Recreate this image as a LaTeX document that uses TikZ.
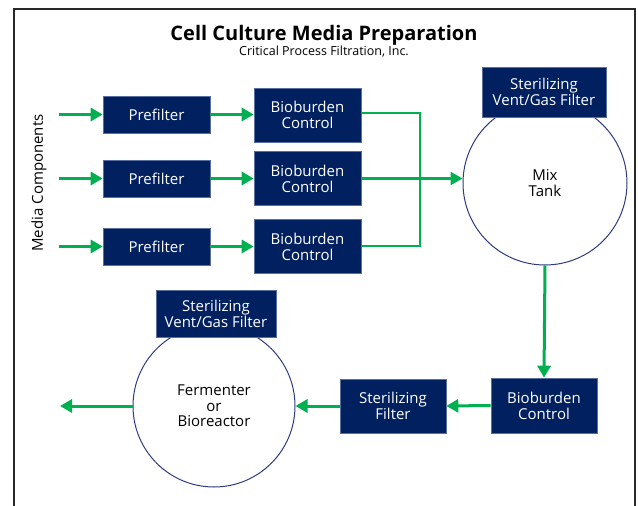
\documentclass[tikz,border=0pt]{standalone}
\usepackage{fontspec}
\setmainfont{Open Sans}
\usetikzlibrary{arrows.meta}
\definecolor{navy}{RGB}{0,32,96}
\definecolor{navyedge}{RGB}{90,110,160}
\definecolor{circedge}{RGB}{47,60,130}
\definecolor{flowgreen}{RGB}{0,176,80}
\definecolor{framegray}{RGB}{40,40,40}
\tikzset{
  procbox/.style={draw=navyedge, line width=0.6pt, fill=navy, text=white, align=center,
    inner sep=0pt, font=\fontsize{15}{16}\selectfont},
  tank/.style={circle, draw=circedge, line width=1pt, fill=white, align=center, inner sep=0pt,
    font=\fontsize{15}{15.5}\selectfont},
  flow/.style={draw=flowgreen, line width=3pt, -{Triangle[length=12pt,width=13pt]}},
  pipe/.style={draw=flowgreen, line width=2.5pt},
}
\begin{document}
\begin{tikzpicture}[x=1pt,y=-1pt]
\useasboundingbox (0,0) rectangle (638,506);
% frame
\draw[framegray, line width=1.1pt] (14,506) -- (14,9) -- (635,9) -- (635,506);
% titles
\node (title) at (324,35) {\fontsize{20}{22}\selectfont\bfseries Cell Culture Media Preparation};
\node (sub) at (324,52) {\fontsize{12.5}{14}\selectfont Critical Process Filtration, Inc.};
\node[rotate=90] (media) at (39,183) {\fontsize{15}{16}\selectfont Media Components};
% input start coordinates
\coordinate (in1) at (59,114.5);
\coordinate (in2) at (59,178.5);
\coordinate (in3) at (59,246.5);
% prefilters
\node[procbox, minimum width=107pt, minimum height=37pt] (p1) at (156.5,114.5) {Prefilter};
\node[procbox, minimum width=107pt, minimum height=37pt] (p2) at (156.5,178.5) {Prefilter};
\node[procbox, minimum width=107pt, minimum height=37pt] (p3) at (156.5,246.5) {Prefilter};
% bioburden
\node[procbox, minimum width=107pt, minimum height=54pt] (b1) at (307.5,115) {Bioburden\\Control};
\node[procbox, minimum width=107pt, minimum height=54pt] (b2) at (307.5,178.5) {Bioburden\\Control};
\node[procbox, minimum width=107pt, minimum height=54pt] (b3) at (307.5,246.5) {Bioburden\\Control};
% mix tank
\node[tank, minimum size=164pt] (mix) at (545,183) {Mix\\Tank};
\node[procbox, minimum width=124pt, minimum height=50pt] (vent1) at (544,92) {Sterilizing\\Vent/Gas Filter};
% lower row
\node[procbox, minimum width=106pt, minimum height=55pt] (b4) at (544,405.5) {Bioburden\\Control};
\node[procbox, minimum width=106pt, minimum height=54pt] (sf) at (393,406) {Sterilizing\\Filter};
\node[tank, minimum size=162pt] (ferm) at (214,406) {Fermenter\\or\\Bioreactor};
\node[procbox, minimum width=120pt, minimum height=47pt] (vent2) at (216,313.5) {Sterilizing\\Vent/Gas Filter};
\coordinate (out) at (60,406);
\coordinate (j1) at (420,113);
\coordinate (j3) at (420,246);
% arrows
\draw[flow] (in1) -- (p1.west);
\draw[flow] (in2) -- (p2.west);
\draw[flow] (in3) -- (p3.west);
\draw[flow] (p1.east) -- (b1.west |- p1.east);
\draw[flow] (p2.east) -- (b2.west |- p2.east);
\draw[flow] (p3.east) -- (b3.west |- p3.east);
\draw[pipe] (b1.east |- j1) -- (j1) -- (j3) -- (b3.east |- j3);
\draw[flow, line width=2.5pt] (b2.east) -- (mix.west |- b2.east);
\draw[flow] (mix.south) -- (b4.north);
\draw[flow] (b4.west) -- (sf.east);
\draw[flow] (sf.west) -- (ferm.east);
\draw[flow] (ferm.west) -- (out);
\end{tikzpicture}
\end{document}
